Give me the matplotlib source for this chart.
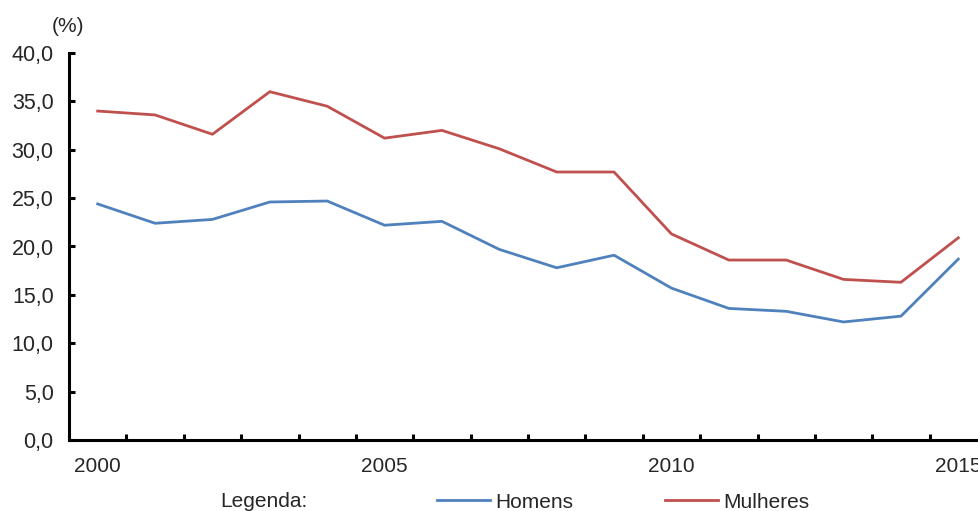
import matplotlib
matplotlib.use("Agg")
import matplotlib.pyplot as plt
from matplotlib.ticker import FixedLocator, FuncFormatter

plt.rcParams['font.family'] = ['Liberation Sans', 'DejaVu Sans']
plt.rcParams['text.color'] = '#262626'
plt.rcParams['xtick.labelcolor'] = '#262626'
plt.rcParams['ytick.labelcolor'] = '#262626'

# taxa por sexo (%)
anos = list(range(2000, 2016))
homens = [24.4, 22.4, 22.8, 24.6, 24.7, 22.2, 22.6, 19.7, 17.8, 19.1,
          15.7, 13.6, 13.3, 12.2, 12.8, 18.7]
mulheres = [34.0, 33.6, 31.6, 36.0, 34.5, 31.2, 32.0, 30.1, 27.7, 27.7,
            21.3, 18.6, 18.6, 16.6, 16.3, 20.9]
anos_rotulo = [2000, 2005, 2010, 2015]

AZUL = '#4F81BD'
VERMELHO = '#C0504D'
FS = 15

fig = plt.figure(figsize=(9.79, 5.11), dpi=100)
# o eixo passa um pouco da borda direita, como no grafico original
ax = fig.add_axes([69 / 979, 71 / 511, 918 / 979, 387 / 511])

l_h, = ax.plot(anos, homens, color=AZUL, lw=2.0, label='Homens')
l_m, = ax.plot(anos, mulheres, color=VERMELHO, lw=2.0, label='Mulheres')

ax.set_xlim(1999.5, 2015.5)
ax.set_ylim(0, 40)

for s in ['top', 'right']:
    ax.spines[s].set_visible(False)
for s in ['left', 'bottom']:
    ax.spines[s].set_linewidth(2.2)

ax.set_yticks(range(0, 41, 5))
ax.yaxis.set_major_formatter(FuncFormatter(lambda v, p: f'{v:.1f}'.replace('.', ',')))
ax.tick_params(axis='y', direction='in', length=4.5, width=2.2, pad=11,
               labelsize=15.5)

# rotulos nos anos, marcas entre categorias
ax.xaxis.set_major_locator(FixedLocator(anos_rotulo))
ax.xaxis.set_minor_locator(FixedLocator([a + 0.5 for a in anos[:-1]]))
ax.tick_params(axis='x', which='major', length=0, pad=12, labelsize=FS)
ax.tick_params(axis='x', which='minor', direction='in', length=4.5, width=2.2)

fig.text(68 / 979, 1 - 26 / 511, '(%)', ha='center', va='center', fontsize=FS)
fig.text(220 / 979, 1 - 501 / 511, 'Legenda:', ha='left', va='center', fontsize=FS)

fig.legend(handles=[l_h, l_m], loc='center left',
           bbox_to_anchor=(437 / 979, 1 - 502 / 511), ncol=2, frameon=False,
           fontsize=FS, handlelength=2.55, handletextpad=0.25,
           columnspacing=4.4, borderpad=0, borderaxespad=0)

fig.savefig('out.png', dpi=100)
